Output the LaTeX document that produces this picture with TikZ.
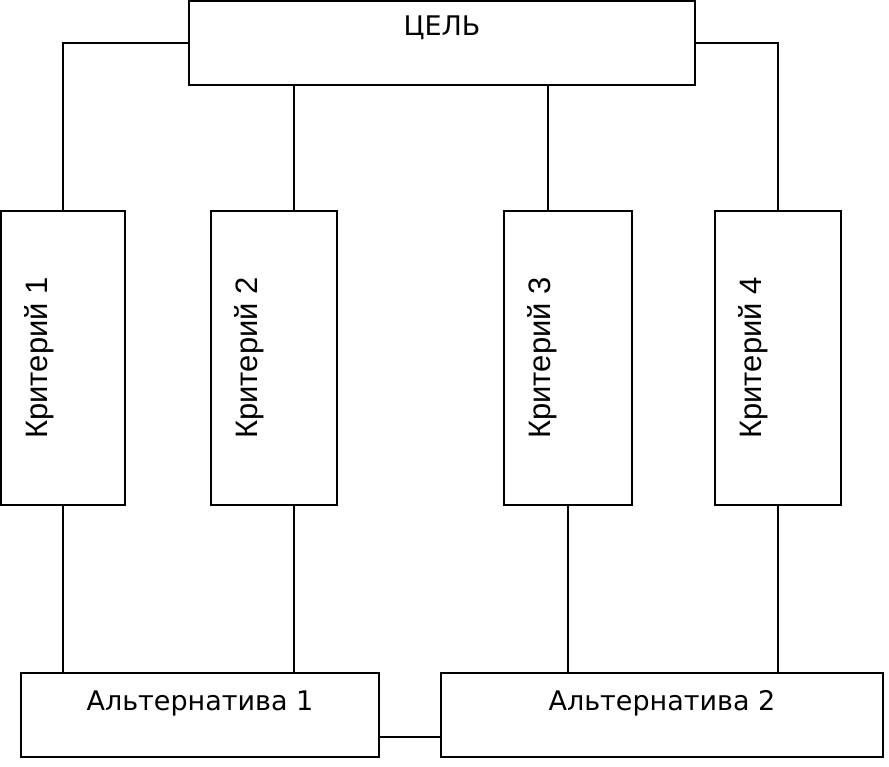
\documentclass[tikz,border=0pt]{standalone}
\usepackage{fontspec}
\setmainfont{DejaVu Sans}
\newfontfamily\critfont{Liberation Sans}
\begin{document}
\begin{tikzpicture}[x=1pt,y=-1pt,line width=1.5pt,
  box/.style={draw,inner sep=0pt,outer sep=0pt},
  vtxt/.style={rotate=90,anchor=base,inner sep=0pt,font=\critfont\fontsize{31}{33}\selectfont},
  htxt/.style={anchor=base,inner sep=0pt,font=\fontsize{27}{30}\selectfont}]
\useasboundingbox (0,0) rectangle (889,766);
% boxes
\node[box,minimum width=506pt,minimum height=84pt] (top) at (442,43) {};
\node[box,minimum width=124pt,minimum height=294pt] (k1) at (63,358) {};
\node[box,minimum width=126pt,minimum height=294pt] (k2) at (274,358) {};
\node[box,minimum width=128pt,minimum height=294pt] (k3) at (568,358) {};
\node[box,minimum width=126pt,minimum height=294pt] (k4) at (778,358) {};
\node[box,minimum width=358pt,minimum height=84pt] (a1) at (200,715) {};
\node[box,minimum width=442pt,minimum height=84pt] (a2) at (662,715) {};
% texts
\node[htxt] (ttop) at (442,35) {ЦЕЛЬ};
\node[vtxt] (t1) at (47,358) {Критерий 1};
\node[vtxt] (t2) at (257,358) {Критерий 2};
\node[vtxt] (t3) at (550,358) {Критерий 3};
\node[vtxt] (t4) at (761,358) {Критерий 4};
\node[htxt] (ta1) at (200,710) {Альтернатива 1};
\node[htxt] (ta2) at (662,710) {Альтернатива 2};
% connectors
\draw (top.west) -| (k1.north);
\draw (top.east) -| (k4.north);
\draw (top.south -| 294,0) -- (k2.north -| 294,0);
\draw (top.south -| 548,0) -- (k3.north -| 548,0);
\draw (k1.south) -- (a1.north -| k1.south);
\draw (k2.south -| 294,0) -- (a1.north -| 294,0);
\draw (k3.south) -- (a2.north -| k3.south);
\draw (k4.south) -- (a2.north -| k4.south);
\draw (a1.east |- 0,737) -- (a2.west |- 0,737);
\end{tikzpicture}
\end{document}
